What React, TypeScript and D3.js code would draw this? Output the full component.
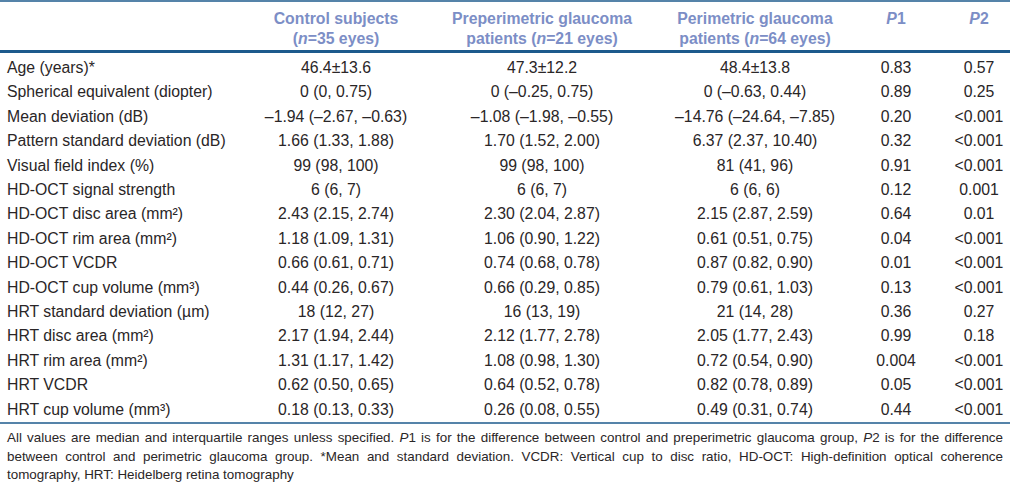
import React, { useLayoutEffect, useRef } from "react";
import * as d3 from "d3";

const rowLabels = [
  "Age (years)*",
  "Spherical equivalent (diopter)",
  "Mean deviation (dB)",
  "Pattern standard deviation (dB)",
  "Visual field index (%)",
  "HD-OCT signal strength",
  "HD-OCT disc area (mm²)",
  "HD-OCT rim area (mm²)",
  "HD-OCT VCDR",
  "HD-OCT cup volume (mm³)",
  "HRT standard deviation (µm)",
  "HRT disc area (mm²)",
  "HRT rim area (mm²)",
  "HRT VCDR",
  "HRT cup volume (mm³)",
];

const controlValues = [
  "46.4±13.6", "0 (0, 0.75)", "–1.94 (–2.67, –0.63)", "1.66 (1.33, 1.88)", "99 (98, 100)",
  "6 (6, 7)", "2.43 (2.15, 2.74)", "1.18 (1.09, 1.31)", "0.66 (0.61, 0.71)", "0.44 (0.26, 0.67)",
  "18 (12, 27)", "2.17 (1.94, 2.44)", "1.31 (1.17, 1.42)", "0.62 (0.50, 0.65)", "0.18 (0.13, 0.33)",
];
const preperimetricValues = [
  "47.3±12.2", "0 (–0.25, 0.75)", "–1.08 (–1.98, –0.55)", "1.70 (1.52, 2.00)", "99 (98, 100)",
  "6 (6, 7)", "2.30 (2.04, 2.87)", "1.06 (0.90, 1.22)", "0.74 (0.68, 0.78)", "0.66 (0.29, 0.85)",
  "16 (13, 19)", "2.12 (1.77, 2.78)", "1.08 (0.98, 1.30)", "0.64 (0.52, 0.78)", "0.26 (0.08, 0.55)",
];
const perimetricValues = [
  "48.4±13.8", "0 (–0.63, 0.44)", "–14.76 (–24.64, –7.85)", "6.37 (2.37, 10.40)", "81 (41, 96)",
  "6 (6, 6)", "2.15 (2.87, 2.59)", "0.61 (0.51, 0.75)", "0.87 (0.82, 0.90)", "0.79 (0.61, 1.03)",
  "21 (14, 28)", "2.05 (1.77, 2.43)", "0.72 (0.54, 0.90)", "0.82 (0.78, 0.89)", "0.49 (0.31, 0.74)",
];
const p1Values = [
  "0.83", "0.89", "0.20", "0.32", "0.91", "0.12", "0.64", "0.04", "0.01", "0.13",
  "0.36", "0.99", "0.004", "0.05", "0.44",
];
const p2Values = [
  "0.57", "0.25", "<0.001", "<0.001", "<0.001", "0.001", "0.01", "<0.001", "<0.001", "<0.001",
  "0.27", "0.18", "<0.001", "<0.001", "<0.001",
];

// header parts: [text, italic]
const headerLines: [string, boolean][][][] = [
  [],
  [[["Control subjects", false]], [["(", false], ["n", true], ["=35 eyes)", false]]],
  [[["Preperimetric glaucoma", false]], [["patients (", false], ["n", true], ["=21 eyes)", false]]],
  [[["Perimetric glaucoma", false]], [["patients (", false], ["n", true], ["=64 eyes)", false]]],
  [[["P", true], ["1", false]]],
  [[["P", true], ["2", false]]],
];

const footnoteLines: [string, boolean][][] = [
  [
    ["All values are median and interquartile ranges unless specified. ", false],
    ["P", true], ["1 is for the difference between control and preperimetric glaucoma group, ", false],
    ["P", true], ["2 is for the difference", false],
  ],
  [["between control and perimetric glaucoma group. *Mean and standard deviation. VCDR: Vertical cup to disc ratio, HD-OCT: High-definition optical coherence", false]],
  [["tomography, HRT: Heidelberg retina tomography", false]],
];

const W = 1010;
const H = 484;
const FONT = "'Liberation Sans', Arial, Helvetica, sans-serif";
const TEXT = "#2a2627";
const HEAD = "#7c8ec6";
const RULE = "#1d5a8c";
const BODY_SIZE = 15.8;
const FOOT_SIZE = 13.4;

export default function App() {
  const footRefs = useRef<(SVGTextElement | null)[]>([]);

  const columnKeys = ["label", "control", "pre", "peri", "p1", "p2"];
  const colX = d3.scaleOrdinal<string, number>().domain(columnKeys).range([7, 336, 542, 755, 896, 979]);
  const rowY = d3.scaleLinear().domain([0, rowLabels.length - 1]).range([67.5, 409]);
  const columns = [rowLabels, controlValues, preperimetricValues, perimetricValues, p1Values, p2Values];

  const footLeft = 7;
  const footRight = 1003;
  const footY = d3.scaleLinear().domain([0, 2]).range([437.5, 474.5]);

  useLayoutEffect(() => {
    footRefs.current.forEach((el, i) => {
      if (!el || i === footnoteLines.length - 1) return;
      el.style.wordSpacing = "0px";
      const natural = el.getComputedTextLength();
      const text = footnoteLines[i].map((p) => p[0]).join("");
      const spaces = (text.match(/ /g) || []).length;
      const extra = (footRight - footLeft - natural) / spaces;
      if (extra >= 0) {
        el.style.wordSpacing = `${extra}px`;
      } else {
        el.setAttribute("textLength", String(footRight - footLeft));
        el.setAttribute("lengthAdjust", "spacingAndGlyphs");
      }
    });
  }, []);

  return (
    <svg
      width={W}
      height={H}
      style={{ position: "absolute", left: 0, top: 0, background: "#fff" }}
      fontFamily={FONT}
    >
      <rect x={0} y={0} width={W} height={H} fill="#fff" />
      <line x1={0} x2={W} y1={1} y2={1} stroke={RULE} strokeWidth={1.6} />
      <line x1={0} x2={W} y1={51.5} y2={51.5} stroke={RULE} strokeWidth={3} />
      <line x1={0} x2={W} y1={423} y2={423} stroke={RULE} strokeWidth={1.3} />

      {headerLines.map((lines, ci) =>
        lines.map((parts, li) => (
          <text
            key={`h${ci}-${li}`}
            x={colX(columnKeys[ci])}
            y={18 + li * 20}
            dy="0.35em"
            textAnchor="middle"
            fontSize={BODY_SIZE}
            fontWeight="bold"
            fill={HEAD}
          >
            {parts.map((p, pi) => (
              <tspan key={pi} fontStyle={p[1] ? "italic" : "normal"}>{p[0]}</tspan>
            ))}
          </text>
        ))
      )}

      {columns.map((vals, ci) =>
        vals.map((v, ri) => (
          <text
            key={`c${ci}-${ri}`}
            x={colX(columnKeys[ci])}
            y={rowY(ri)}
            dy="0.35em"
            textAnchor={ci === 0 ? "start" : "middle"}
            fontSize={BODY_SIZE}
            fill={TEXT}
          >
            {v}
          </text>
        ))
      )}

      {footnoteLines.map((parts, li) => (
        <text
          key={`f${li}`}
          ref={(el) => { footRefs.current[li] = el; }}
          x={footLeft}
          y={footY(li)}
          dy="0.35em"
          fontSize={FOOT_SIZE}
          fill={TEXT}
          style={{ whiteSpace: "pre" }}
        >
          {parts.map((p, pi) => (
            <tspan key={pi} fontStyle={p[1] ? "italic" : "normal"}>{p[0]}</tspan>
          ))}
        </text>
      ))}
    </svg>
  );
}
